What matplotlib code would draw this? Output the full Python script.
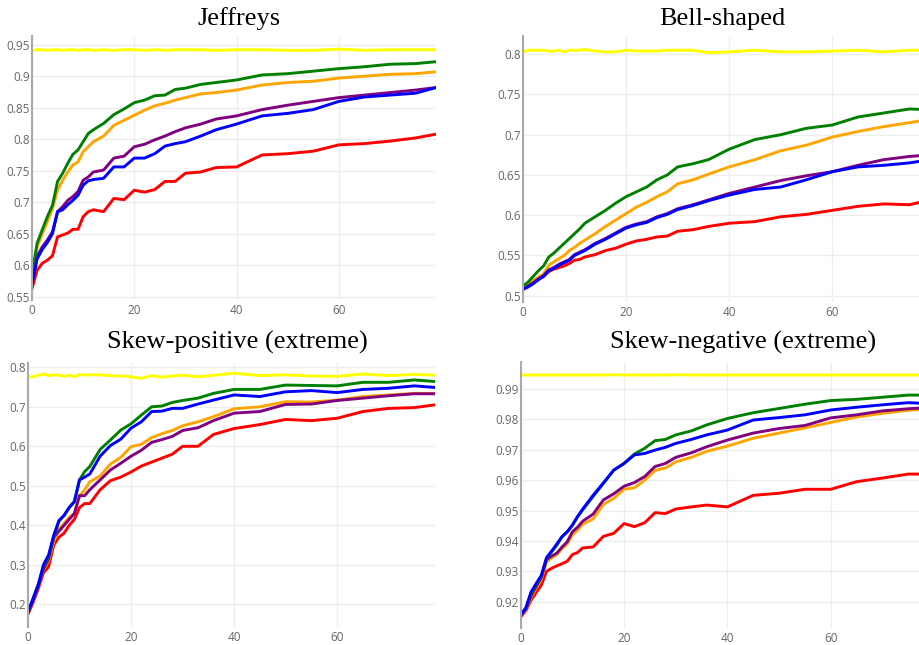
import numpy as np
import matplotlib
matplotlib.use("Agg")
from matplotlib import pyplot as plt
from matplotlib.ticker import FuncFormatter

# shared x grid (iterations)
x = [0, 1, 2, 3, 4, 5, 6, 7, 8, 9, 10, 11, 12, 14, 16, 18, 20, 22, 24, 26,
     28, 30, 33, 36, 40, 45, 50, 55, 60, 65, 70, 75, 79]

titles = ["Jeffreys", "Bell-shaped", "Skew-positive (extreme)", "Skew-negative (extreme)"]
colors = {"yellow": "#ffff00", "red": "#ff0000", "orange": "#ffa500",
          "purple": "#800080", "green": "#008000", "blue": "#0000ff"}

# --- Jeffreys
jef_yellow = [0.941, 0.942, 0.942, 0.941, 0.942, 0.942, 0.941, 0.942, 0.942, 0.941, 0.942,
              0.942, 0.941, 0.942, 0.941, 0.942, 0.942, 0.941, 0.942, 0.941, 0.942, 0.942,
              0.942, 0.941, 0.942, 0.942, 0.941, 0.941, 0.943, 0.941, 0.942, 0.942, 0.942]
jef_green = [0.585, 0.635, 0.656, 0.677, 0.695, 0.733, 0.746, 0.762, 0.776, 0.783, 0.796,
             0.809, 0.815, 0.825, 0.839, 0.848, 0.858, 0.862, 0.869, 0.870, 0.879, 0.881,
             0.887, 0.890, 0.894, 0.902, 0.904, 0.908, 0.912, 0.915, 0.919, 0.920, 0.923]
jef_orange = [0.580, 0.629, 0.650, 0.669, 0.690, 0.719, 0.735, 0.748, 0.759, 0.764, 0.780,
              0.788, 0.796, 0.805, 0.822, 0.830, 0.838, 0.846, 0.853, 0.857, 0.862, 0.866,
              0.872, 0.874, 0.878, 0.886, 0.890, 0.892, 0.897, 0.900, 0.903, 0.904, 0.907]
jef_purple = [0.575, 0.614, 0.629, 0.640, 0.653, 0.685, 0.693, 0.703, 0.709, 0.717, 0.735,
              0.740, 0.748, 0.751, 0.770, 0.773, 0.788, 0.792, 0.799, 0.805, 0.812, 0.818,
              0.824, 0.832, 0.837, 0.847, 0.854, 0.860, 0.866, 0.870, 0.874, 0.878, 0.882]
jef_blue = [0.570, 0.610, 0.625, 0.636, 0.650, 0.685, 0.688, 0.696, 0.703, 0.711, 0.727,
            0.734, 0.736, 0.738, 0.756, 0.756, 0.770, 0.770, 0.777, 0.789, 0.793, 0.796,
            0.805, 0.815, 0.824, 0.837, 0.841, 0.847, 0.860, 0.867, 0.870, 0.873, 0.882]
jef_red = [0.563, 0.592, 0.603, 0.608, 0.615, 0.645, 0.648, 0.651, 0.657, 0.657, 0.677,
           0.685, 0.688, 0.685, 0.706, 0.704, 0.719, 0.716, 0.720, 0.733, 0.733, 0.746,
           0.748, 0.755, 0.756, 0.775, 0.777, 0.781, 0.791, 0.793, 0.797, 0.802, 0.808]

# --- Bell-shaped
bell_yellow = [0.803, 0.805, 0.805, 0.805, 0.805, 0.804, 0.804, 0.805, 0.803, 0.805, 0.805,
               0.805, 0.806, 0.804, 0.803, 0.803, 0.805, 0.804, 0.804, 0.804, 0.805, 0.805,
               0.805, 0.802, 0.803, 0.805, 0.803, 0.803, 0.804, 0.805, 0.803, 0.805, 0.805]
bell_green = [0.512, 0.517, 0.524, 0.531, 0.537, 0.548, 0.553, 0.559, 0.565, 0.571, 0.577,
              0.583, 0.590, 0.598, 0.606, 0.615, 0.623, 0.629, 0.635, 0.644, 0.650, 0.660,
              0.664, 0.669, 0.682, 0.694, 0.700, 0.708, 0.712, 0.722, 0.727, 0.732, 0.731]
bell_orange = [0.510, 0.514, 0.519, 0.523, 0.527, 0.538, 0.542, 0.546, 0.550, 0.556, 0.560,
               0.565, 0.569, 0.577, 0.586, 0.594, 0.602, 0.610, 0.616, 0.623, 0.629, 0.639,
               0.644, 0.651, 0.660, 0.669, 0.680, 0.687, 0.697, 0.704, 0.710, 0.715, 0.719]
bell_purple = [0.508, 0.512, 0.516, 0.521, 0.525, 0.532, 0.535, 0.539, 0.542, 0.545, 0.551,
               0.554, 0.557, 0.565, 0.571, 0.578, 0.585, 0.589, 0.592, 0.598, 0.602, 0.608,
               0.613, 0.619, 0.627, 0.635, 0.643, 0.649, 0.654, 0.662, 0.669, 0.673, 0.675]
bell_blue = [0.508, 0.511, 0.515, 0.520, 0.524, 0.531, 0.534, 0.538, 0.541, 0.544, 0.550,
             0.553, 0.556, 0.564, 0.570, 0.577, 0.584, 0.588, 0.591, 0.597, 0.601, 0.607,
             0.612, 0.618, 0.625, 0.632, 0.635, 0.644, 0.654, 0.660, 0.662, 0.665, 0.669]
bell_red = [0.508, 0.511, 0.515, 0.520, 0.524, 0.530, 0.533, 0.535, 0.537, 0.540, 0.544,
            0.545, 0.548, 0.551, 0.556, 0.559, 0.564, 0.568, 0.570, 0.573, 0.574, 0.580,
            0.582, 0.586, 0.590, 0.592, 0.598, 0.601, 0.606, 0.611, 0.614, 0.613, 0.619]

# --- Skew-positive (extreme)
sp_yellow = [0.776, 0.776, 0.780, 0.783, 0.779, 0.781, 0.780, 0.777, 0.780, 0.776, 0.782,
             0.780, 0.781, 0.781, 0.779, 0.778, 0.776, 0.772, 0.779, 0.775, 0.778, 0.780,
             0.776, 0.780, 0.785, 0.779, 0.781, 0.778, 0.777, 0.783, 0.779, 0.782, 0.780]
sp_green = [0.180, 0.215, 0.250, 0.295, 0.320, 0.370, 0.410, 0.425, 0.445, 0.460, 0.515,
            0.536, 0.549, 0.592, 0.616, 0.641, 0.657, 0.679, 0.700, 0.702, 0.711, 0.716,
            0.722, 0.734, 0.744, 0.744, 0.755, 0.754, 0.753, 0.762, 0.762, 0.768, 0.764]
sp_orange = [0.180, 0.210, 0.245, 0.290, 0.310, 0.360, 0.390, 0.405, 0.420, 0.430, 0.475,
             0.490, 0.510, 0.525, 0.555, 0.572, 0.599, 0.605, 0.622, 0.632, 0.640, 0.652,
             0.662, 0.675, 0.695, 0.700, 0.713, 0.712, 0.717, 0.726, 0.730, 0.734, 0.734]
sp_purple = [0.180, 0.210, 0.245, 0.290, 0.315, 0.370, 0.385, 0.400, 0.415, 0.430, 0.475,
             0.475, 0.490, 0.515, 0.540, 0.557, 0.575, 0.590, 0.610, 0.617, 0.625, 0.640,
             0.647, 0.665, 0.684, 0.688, 0.706, 0.707, 0.716, 0.722, 0.728, 0.733, 0.733]
sp_blue = [0.180, 0.215, 0.250, 0.300, 0.325, 0.375, 0.412, 0.425, 0.445, 0.460, 0.515,
           0.522, 0.530, 0.575, 0.602, 0.618, 0.646, 0.662, 0.688, 0.689, 0.696, 0.696,
           0.707, 0.717, 0.730, 0.726, 0.738, 0.741, 0.736, 0.744, 0.747, 0.753, 0.749]
sp_red = [0.175, 0.205, 0.240, 0.280, 0.295, 0.350, 0.370, 0.380, 0.400, 0.415, 0.445,
          0.455, 0.455, 0.490, 0.513, 0.522, 0.535, 0.550, 0.560, 0.570, 0.580, 0.600,
          0.600, 0.630, 0.645, 0.655, 0.668, 0.665, 0.671, 0.688, 0.696, 0.698, 0.705]

# --- Skew-negative (extreme)
sn_yellow = [0.9946, 0.9946, 0.9946, 0.9946, 0.9946, 0.9946, 0.9946, 0.9946, 0.9946,
             0.9946, 0.9946, 0.9946, 0.9946, 0.9946, 0.9946, 0.9947, 0.9946, 0.9946,
             0.9946, 0.9946, 0.9946, 0.9947, 0.9946, 0.9946, 0.9946, 0.9946, 0.9946,
             0.9946, 0.9946, 0.9946, 0.9946, 0.9946, 0.9946]
sn_green = [0.9156, 0.9178, 0.9227, 0.9255, 0.9284, 0.9342, 0.9364, 0.9386, 0.9414, 0.9430,
            0.9452, 0.9480, 0.9502, 0.9546, 0.9589, 0.9633, 0.9655, 0.9686, 0.9705, 0.9730,
            0.9734, 0.9749, 0.9762, 0.9782, 0.9803, 0.9822, 0.9836, 0.9850, 0.9862, 0.9866,
            0.9873, 0.9880, 0.9880]
sn_orange = [0.9156, 0.9172, 0.9215, 0.9245, 0.9275, 0.9330, 0.9345, 0.9355, 0.9375, 0.9390,
             0.9420, 0.9435, 0.9455, 0.9472, 0.9520, 0.9540, 0.9570, 0.9575, 0.9600, 0.9632,
             0.9640, 0.9660, 0.9675, 0.9695, 0.9712, 0.9738, 0.9755, 0.9772, 0.9790, 0.9808,
             0.9820, 0.9830, 0.9834]
sn_purple = [0.9156, 0.9175, 0.9220, 0.9250, 0.9280, 0.9339, 0.9350, 0.9360, 0.9380, 0.9397,
             0.9430, 0.9445, 0.9465, 0.9488, 0.9535, 0.9555, 0.9580, 0.9592, 0.9612, 0.9645,
             0.9655, 0.9675, 0.9690, 0.9710, 0.9732, 0.9755, 0.9770, 0.9780, 0.9805, 0.9815,
             0.9828, 0.9835, 0.9839]
sn_blue = [0.9156, 0.9180, 0.9232, 0.9260, 0.9287, 0.9345, 0.9367, 0.9390, 0.9414, 0.9430,
           0.9452, 0.9480, 0.9505, 0.9550, 0.9591, 0.9633, 0.9655, 0.9683, 0.9688, 0.9699,
           0.9708, 0.9721, 0.9734, 0.9749, 0.9765, 0.9798, 0.9806, 0.9815, 0.9831, 0.9840,
           0.9848, 0.9855, 0.9852]
sn_red = [0.9150, 0.9170, 0.9205, 0.9230, 0.9255, 0.9300, 0.9310, 0.9318, 0.9325, 0.9333,
          0.9355, 0.9362, 0.9377, 0.9380, 0.9415, 0.9425, 0.9457, 0.9447, 0.9460, 0.9493,
          0.9490, 0.9505, 0.9512, 0.9518, 0.9512, 0.9550, 0.9557, 0.9570, 0.9570, 0.9595,
          0.9607, 0.9620, 0.9620]

panels = [
    dict(yellow=jef_yellow, red=jef_red, orange=jef_orange, purple=jef_purple,
         green=jef_green, blue=jef_blue),
    dict(yellow=bell_yellow, red=bell_red, orange=bell_orange, purple=bell_purple,
         green=bell_green, blue=bell_blue),
    dict(yellow=sp_yellow, red=sp_red, orange=sp_orange, purple=sp_purple,
         green=sp_green, blue=sp_blue),
    dict(yellow=sn_yellow, red=sn_red, orange=sn_orange, purple=sn_purple,
         green=sn_green, blue=sn_blue),
]

W, H = 919, 645
boxes = [(32, 436, 36, 300), (523, 930, 36, 301.7), (28, 435, 363, 626.7), (520.7, 929, 361.7, 628)]
ylims = [(0.5448, 0.9638), (0.4925, 0.8227), (0.1433, 0.8109), (0.91134, 0.99899)]
yticks = [np.arange(0.55, 0.951, 0.05), np.arange(0.5, 0.801, 0.05),
          np.arange(0.2, 0.801, 0.1), np.arange(0.92, 0.9951, 0.01)]
title_pos = [(239, 25), (722, 25), (237, 349), (743, 349)]

fig = plt.figure(figsize=(W / 100, H / 100), dpi=100)
tick_family = ["Open Sans", "DejaVu Sans"]
fmt = FuncFormatter(lambda v, p: ("%.2f" % v).rstrip("0").rstrip(".") if abs(v) > 1e-9 else "0")

for i, data in enumerate(panels):
    l, r, t, b = boxes[i]
    ax = fig.add_axes([l / W, (H - b) / H, (r - l) / W, (b - t) / H])
    for name in ["yellow", "red", "orange", "purple", "green", "blue"]:
        ax.plot(x, data[name], color=colors[name], lw=2.1, solid_joinstyle="round")
    ax.set_xlim(0, 79)
    ax.set_ylim(*ylims[i])
    ax.set_xticks([0, 20, 40, 60])
    ax.set_yticks(yticks[i])
    ax.yaxis.set_major_formatter(fmt)
    ax.grid(True, color="#eeeeee", lw=1)
    ax.set_axisbelow(True)
    for s in ["top", "right", "bottom"]:
        ax.spines[s].set_visible(False)
    ax.spines["left"].set_color("#aaaaaa")
    ax.spines["left"].set_linewidth(1.5)
    ax.tick_params(axis="y", length=0, pad=1.5, colors="#666666")
    ax.tick_params(axis="x", length=0, pad=3, colors="#666666")
    for lab in ax.get_xticklabels() + ax.get_yticklabels():
        lab.set_fontfamily(tick_family)
        lab.set_fontsize(8.5)
    tx, ty = title_pos[i]
    fig.text(tx / W, (H - ty) / H, titles[i], ha="center", va="baseline",
             fontsize=19, family="Liberation Serif", color="black")

fig.savefig("out.png", dpi=100)
